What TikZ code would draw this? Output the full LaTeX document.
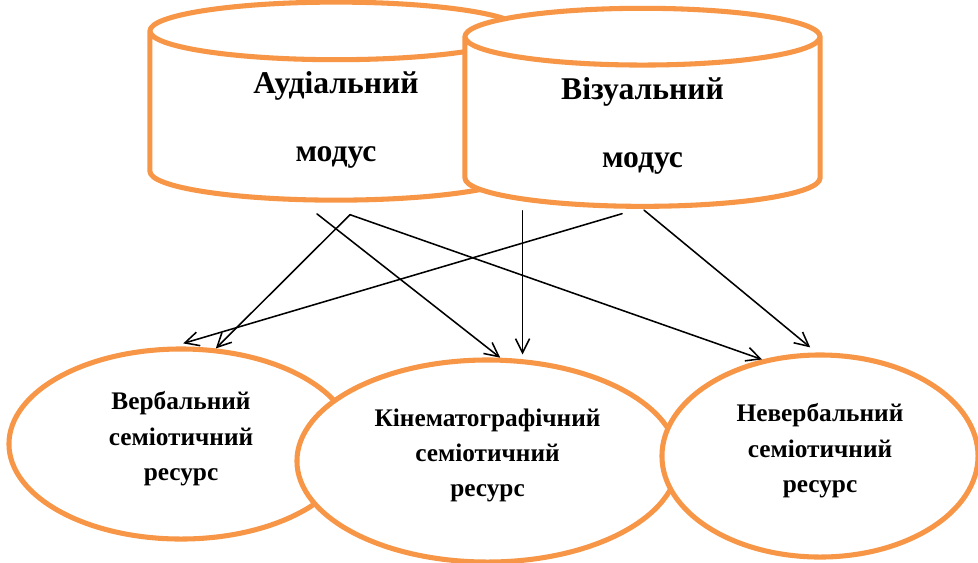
\documentclass[tikz,border=0pt]{standalone}
\usepackage{fontspec}
\setmainfont{Liberation Serif}
\usetikzlibrary{shapes.geometric,arrows.meta}
\definecolor{modorange}{HTML}{F79646}

\begin{document}
\begin{tikzpicture}[x=0.025cm,y=-0.025cm,>={Straight Barb[length=3.5mm,width=3.5mm]},line join=round,line cap=round,
  modus/.style={cylinder,shape border rotate=90,aspect=0.33,draw=modorange,line width=3.6pt,fill=white,align=center,font=\fontsize{22.5}{48}\selectfont\bfseries},
  resurs/.style={ellipse,draw=modorange,line width=3.6pt,fill=white,align=center,inner sep=0pt,font=\fontsize{18}{25}\selectfont\bfseries,execute at end node={\rule[-0.4cm]{0pt}{0pt}}},
  link/.style={->,line width=1.1pt}]
  \useasboundingbox (0,0) rectangle (978,562);

  % modes
  \node[modus,minimum width=9.3cm,minimum height=4.95cm] (aud) at (336,120) {Аудіальний\\модус};
  \node[modus,minimum width=8.875cm,minimum height=4.95cm] (vis) at (642.5,126) {Візуальний\\модус};

  % resources
  \node[resurs,minimum width=8.6cm,minimum height=4.75cm] (verb) at (181,444) {Вербальний\\семіотичний\\ресурс};
  \node[resurs,minimum width=9.525cm,minimum height=5.05cm] (kino) at (487.5,461) {Кінематографічний\\семіотичний\\ресурс};
  \node[resurs,minimum width=7.9cm,minimum height=5.05cm] (nev) at (820,456) {Невербальний\\семіотичний\\ресурс};

  \draw[link] ([xshift=0.35cm,yshift=-0.3cm]aud.south) -- (verb.70.9);
  \draw[link] ([xshift=-0.475cm,yshift=-0.28cm]aud.south) -- (kino.83.1);
  \draw[link] ([xshift=0.35cm,yshift=-0.3cm]aud.south) -- (nev.121.1);
  \draw[link,shorten >=0.28cm] ([xshift=-0.51cm,yshift=-0.12cm]vis.south) -- (verb.95.9);
  \draw[link,shorten <=0.05cm,shorten >=0.12cm] (kino.71.1 |- vis.south) -- (kino.71.1);
  \draw[link,shorten <=0.05cm,shorten >=0.2cm] (vis.south) -- (nev.92.6);
\end{tikzpicture}
\end{document}
